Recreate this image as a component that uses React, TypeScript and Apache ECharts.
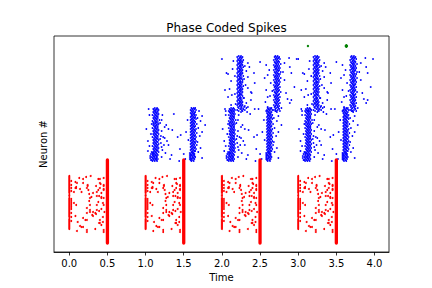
import { useEffect, useRef } from "react";
import * as echarts from "echarts";

// x-axis tick labels (time)
const xTicks = [0, 0.5, 1, 1.5, 2, 2.5, 3, 3.5, 4];

// which cycles each population is active in (cycle start times)
const redCycles = [0, 1, 2, 3];
const middleCycles = [1, 2, 3];
const upperCycles = [2, 3];

// red population: synchronous volley at phase 0.5 across neurons 0..83
const redSyncPhase = 0.5;
const redSyncNeurons = [0, 83];

// red population: onset column (phase, neuron)
const redOnset: [number, number][] = [
  [0, 67], [0, 66], [0, 65], [0, 64], [0, 63], [0, 62], [0, 61], [0, 60], [0, 59], [0, 58],
  [0, 57], [0, 56], [0, 55], [0, 54], [0, 53], [0, 52], [0, 51], [0, 50], [0, 48], [0, 47],
  [0, 45], [0, 44], [0, 43], [0, 42], [0, 41], [0, 40], [0, 39], [0, 38], [0, 37], [0, 36],
  [0, 35], [0, 34], [0, 33], [0, 32], [0, 31], [0, 30], [0, 29], [0, 28], [0, 27], [0, 26],
  [0, 24], [0, 23], [0, 22], [0, 21], [0, 20], [0, 19], [0, 18], [0, 17], [0, 16], [0, 15], [0, 14],
  [0.025, 62], [0.025, 58], [0.025, 55], [0.025, 52], [0.025, 44], [0.025, 42], [0.025, 40],
  [0.025, 38], [0.025, 36], [0.025, 34], [0.025, 30], [0.025, 26], [0.025, 22],
];

// red population: scattered spikes within a cycle (phase, neuron)
const redScatter: [number, number][] = [
  [0.13, 65], [0.18, 64], [0.28, 67], [0.38, 64], [0.45, 65], [0.08, 61], [0.24, 57], [0.09, 56],
  [0.09, 55], [0.35, 57], [0.41, 59], [0.45, 57], [0.14, 54], [0.06, 51], [0.16, 51], [0.25, 53],
  [0.38, 53], [0.45, 53], [0.26, 49], [0.29, 46], [0.36, 47], [0.42, 46], [0.27, 45], [0.06, 40],
  [0.09, 38], [0.26, 42], [0.27, 38], [0.38, 41], [0.44, 40], [0.36, 38], [0.42, 45], [0.23, 35],
  [0.27, 33], [0.31, 31], [0.35, 29], [0.30, 28], [0.42, 34], [0.39, 32], [0.46, 31], [0.08, 27],
  [0.31, 27], [0.18, 25], [0.23, 23], [0.44, 21], [0.14, 17], [0.18, 16], [0.40, 20], [0.42, 18],
  [0.10, 12], [0.23, 11], [0.45, 11], [0.22, 66], [0.40, 64], [0.10, 60], [0.18, 60], [0.24, 58],
  [0.40, 60], [0.45, 58], [0.08, 55], [0.23, 55], [0.40, 55], [0.45, 54], [0.31, 50], [0.36, 51],
  [0.42, 50], [0.39, 47], [0.45, 45], [0.45, 38], [0.27, 31], [0.36, 33], [0.23, 30], [0.34, 30],
  [0.21, 23], [0.40, 23], [0.44, 26], [0.11, 21], [0.39, 20], [0.16, 16], [0.23, 13], [0.34, 14],
  [0.45, 13],
];

// middle blue population: neuron -> spike phases within a cycle
const middleTrains: [number, number[]][] = [
  [135, [0.12, 0.15, 0.60, 0.63, 0.65]],
  [134, [0.04, 0.10, 0.14, 0.16, 0.61, 0.64]],
  [133, [0.11, 0.13, 0.17, 0.59, 0.62, 0.66]],
  [132, [0.12, 0.15, 0.60, 0.63, 0.70]],
  [131, [0.10, 0.13, 0.16, 0.61, 0.65]],
  [130, [0.11, 0.14, 0.59, 0.62, 0.64]],
  [129, [0.12, 0.15, 0.17, 0.37, 0.60, 0.63]],
  [128, [0.05, 0.09, 0.13, 0.22, 0.61, 0.64, 0.66]],
  [127, [0.11, 0.14, 0.16, 0.60, 0.62, 0.74]],
  [126, [0.12, 0.15, 0.59, 0.63, 0.65]],
  [125, [0.10, 0.13, 0.16, 0.61, 0.64, 0.68]],
  [124, [0.11, 0.14, 0.60, 0.62, 0.66]],
  [123, [0.12, 0.15, 0.18, 0.21, 0.55, 0.59, 0.63]],
  [122, [0.09, 0.13, 0.61, 0.64, 0.72]],
  [121, [0.11, 0.14, 0.16, 0.60, 0.62, 0.65]],
  [120, [0.10, 0.13, 0.19, 0.59, 0.63]],
  [119, [0.08, 0.12, 0.15, 0.17, 0.61, 0.64, 0.67]],
  [118, [0.10, 0.14, 0.27, 0.60, 0.62, 0.78]],
  [117, [0.11, 0.13, 0.16, 0.59, 0.63, 0.65]],
  [116, [0.12, 0.15, 0.25, 0.61, 0.64]],
  [115, [0.09, 0.13, 0.16, 0.60, 0.62, 0.69]],
  [114, [0.01, 0.11, 0.14, 0.30, 0.59, 0.63, 0.66]],
  [113, [0.12, 0.15, 0.17, 0.35, 0.61, 0.64]],
  [112, [0.10, 0.13, 0.21, 0.60, 0.62, 0.65]],
  [111, [0.11, 0.14, 0.16, 0.53, 0.59, 0.63, 0.74]],
  [110, [0.12, 0.15, 0.61, 0.64, 0.67]],
  [109, [0.07, 0.10, 0.13, 0.17, 0.60, 0.62]],
  [108, [0.11, 0.14, 0.46, 0.59, 0.63, 0.65]],
  [107, [0.12, 0.15, 0.16, 0.20, 0.61, 0.64, 0.71]],
  [106, [0.09, 0.13, 0.23, 0.42, 0.60, 0.62, 0.66]],
  [105, [0.11, 0.14, 0.16, 0.25, 0.59, 0.63]],
  [104, [0.12, 0.15, 0.19, 0.61, 0.64, 0.65]],
  [103, [0.10, 0.13, 0.17, 0.56, 0.60, 0.62]],
  [102, [0.03, 0.11, 0.14, 0.28, 0.59, 0.63, 0.66]],
  [101, [0.12, 0.15, 0.16, 0.61, 0.64, 0.68]],
  [100, [0.10, 0.13, 0.20, 0.60, 0.62, 0.65]],
  [99, [0.11, 0.14, 0.17, 0.59, 0.63]],
  [98, [0.12, 0.15, 0.24, 0.30, 0.61, 0.64, 0.67]],
  [97, [0.05, 0.09, 0.13, 0.16, 0.60, 0.62]],
  [96, [0.11, 0.14, 0.21, 0.59, 0.63, 0.65]],
  [95, [0.12, 0.15, 0.17, 0.61, 0.64, 0.72]],
  [94, [0.10, 0.13, 0.45, 0.60, 0.62, 0.66]],
  [93, [0.11, 0.14, 0.16, 0.22, 0.59, 0.63]],
  [92, [0.03, 0.12, 0.15, 0.61, 0.64, 0.65]],
  [91, [0.08, 0.10, 0.13, 0.17, 0.60, 0.62, 0.69]],
  [90, [0.09, 0.11, 0.14, 0.26, 0.58, 0.61, 0.63]],
  [89, [0.07, 0.10, 0.12, 0.15, 0.50, 0.59, 0.62, 0.64]],
  [88, [0.09, 0.13, 0.16, 0.34, 0.58, 0.60, 0.63]],
  [87, [0.06, 0.10, 0.12, 0.14, 0.59, 0.61, 0.64]],
  [86, [0.08, 0.11, 0.15, 0.21, 0.58, 0.62, 0.65]],
  [85, [0.06, 0.09, 0.12, 0.14, 0.59, 0.61, 0.63, 0.74]],
  [84, [0.10, 0.13, 0.16, 0.32, 0.52, 0.58, 0.60, 0.64]],
  [83, [0.07, 0.08, 0.11, 0.14, 0.59, 0.62]],
  [82, [0.09, 0.12, 0.15, 0.44, 0.60, 0.63]],
];

// upper blue population: neuron -> spike phases within a cycle
const upperTrains: [number, number[]][] = [
  [187, [0.22, 0.25, 0.70, 0.73]],
  [186, [0.20, 0.24, 0.27, 0.69, 0.72, 0.75]],
  [185, [0.23, 0.26, 0.71, 0.74, 0.88]],
  [184, [0.00, 0.21, 0.25, 0.70, 0.73, 0.76, 0.98]],
  [183, [0.22, 0.24, 0.28, 0.68, 0.72]],
  [182, [0.15, 0.20, 0.23, 0.26, 0.71, 0.74]],
  [181, [0.24, 0.27, 0.50, 0.69, 0.73, 0.75]],
  [180, [0.21, 0.23, 0.25, 0.34, 0.70, 0.72, 0.82]],
  [179, [0.22, 0.26, 0.71, 0.74, 0.77]],
  [178, [0.20, 0.24, 0.27, 0.58, 0.68, 0.72]],
  [177, [0.23, 0.25, 0.30, 0.70, 0.73, 0.75]],
  [176, [0.21, 0.24, 0.28, 0.36, 0.69, 0.72, 0.89]],
  [175, [0.22, 0.26, 0.71, 0.74, 0.76]],
  [174, [0.14, 0.20, 0.23, 0.25, 0.70, 0.72]],
  [173, [0.24, 0.27, 0.62, 0.68, 0.73, 0.75]],
  [172, [0.21, 0.23, 0.26, 0.32, 0.71, 0.74]],
  [171, [0.22, 0.25, 0.69, 0.72, 0.77, 0.80]],
  [170, [0.06, 0.20, 0.24, 0.27, 0.42, 0.70, 0.73, 0.91]],
  [169, [0.08, 0.23, 0.26, 0.71, 0.74, 0.76]],
  [168, [0.21, 0.24, 0.60, 0.68, 0.72]],
  [167, [0.17, 0.22, 0.25, 0.28, 0.70, 0.73, 0.75]],
  [166, [0.20, 0.23, 0.34, 0.69, 0.72]],
  [165, [0.24, 0.26, 0.56, 0.71, 0.74, 0.77]],
  [164, [0.21, 0.23, 0.25, 0.29, 0.70, 0.73]],
  [163, [0.22, 0.27, 0.68, 0.72, 0.75, 0.82]],
  [162, [0.12, 0.20, 0.24, 0.71, 0.74]],
  [161, [0.23, 0.25, 0.27, 0.69, 0.72, 0.76]],
  [160, [0.21, 0.24, 0.43, 0.64, 0.70, 0.73]],
  [159, [0.22, 0.26, 0.71, 0.75]],
  [158, [0.20, 0.23, 0.25, 0.31, 0.68, 0.72, 0.74]],
  [157, [0.24, 0.28, 0.70, 0.73]],
  [156, [0.21, 0.23, 0.26, 0.69, 0.72, 0.76, 0.95]],
  [155, [0.22, 0.25, 0.34, 0.71, 0.74]],
  [154, [0.10, 0.20, 0.24, 0.27, 0.70, 0.73]],
  [153, [0.04, 0.23, 0.26, 0.58, 0.68, 0.72, 0.75]],
  [152, [0.21, 0.24, 0.66, 0.71, 0.74]],
  [151, [0.22, 0.25, 0.27, 0.38, 0.69, 0.73, 0.77]],
  [150, [0.20, 0.23, 0.39, 0.70, 0.72, 0.84]],
  [149, [0.17, 0.24, 0.26, 0.71, 0.75]],
  [148, [0.13, 0.21, 0.23, 0.25, 0.68, 0.72, 0.74]],
  [147, [0.22, 0.27, 0.63, 0.70, 0.73]],
  [146, [0.08, 0.20, 0.24, 0.60, 0.69, 0.72, 0.76]],
  [145, [0.23, 0.25, 0.28, 0.29, 0.71, 0.74]],
  [144, [0.21, 0.24, 0.70, 0.73, 0.86]],
  [143, [0.22, 0.26, 0.38, 0.68, 0.72, 0.75, 0.91]],
  [142, [0.20, 0.23, 0.25, 0.71, 0.74]],
  [141, [0.24, 0.27, 0.57, 0.69, 0.73]],
  [140, [0.21, 0.23, 0.26, 0.32, 0.70, 0.72, 0.76, 0.89]],
  [139, [0.18, 0.22, 0.25, 0.71, 0.74]],
  [138, [0.12, 0.20, 0.24, 0.27, 0.68, 0.72]],
  [137, [0.23, 0.26, 0.30, 0.70, 0.73, 0.75]],
  [136, [0.21, 0.25, 0.29, 0.34, 0.60, 0.69, 0.73]],
  [135, [0.22, 0.26, 0.32, 0.71, 0.74, 0.78]],
  [134, [0.24, 0.28, 0.43, 0.48, 0.70, 0.75]],
  [133, [0.20, 0.26, 0.30, 0.68, 0.73]],
  [132, [0.05, 0.09, 0.13, 0.22, 0.27, 0.58, 0.71, 0.76]],
  [131, [0.25, 0.33, 0.72]],
];

// green output spikes (time, neuron)
const greenSpikes: [number, number][] = [
  [3.128, 197], [3.623, 197], [3.639, 197], [3.631, 196.2], [3.631, 197.8], [3.631, 197],
];

const flattenPairs = (pairs: [number, number][], cycles: number[]) =>
  cycles.flatMap((c) => pairs.map(([p, n]) => [c + p, n]));
const flattenTrains = (rows: [number, number[]][], cycles: number[]) =>
  cycles.flatMap((c) => rows.flatMap(([n, phases]) => phases.map((p) => [c + p, n])));

export default function App() {
  const ref = useRef<HTMLDivElement>(null);
  useEffect(() => {
    if (!ref.current) return;
    const chart = echarts.init(ref.current, null, { renderer: "svg" });
    const font = "DejaVu Sans";
    const dot = (name: string, data: number[][], color: string, size: number) => ({
      name,
      type: "scatter",
      data,
      symbol: "circle",
      symbolSize: size,
      itemStyle: { color, opacity: 1 },
      silent: true,
      large: false,
    });
    const syncLines = redCycles.map((c) => ({
      type: "line",
      data: [
        [c + redSyncPhase, redSyncNeurons[0]],
        [c + redSyncPhase, redSyncNeurons[1]],
      ],
      symbol: "none",
      silent: true,
      lineStyle: { color: "#ff0000", width: 3.3, cap: "round" },
    }));
    chart.setOption({
      animation: false,
      title: {
        text: "Phase Coded Spikes",
        left: 221.5,
        textAlign: "center",
        top: 17,
        textStyle: { fontFamily: font, fontSize: 12, fontWeight: "normal", color: "#000" },
      },
      grid: {
        left: 54,
        right: 43,
        top: 36,
        bottom: 36,
        show: true,
        borderColor: "#000",
        borderWidth: 0.8,
        backgroundColor: "transparent",
      },
      xAxis: {
        type: "value",
        min: -0.2,
        max: 4.19,
        name: "Time",
        nameLocation: "middle",
        nameGap: 19,
        nameTextStyle: { fontFamily: font, fontSize: 10, color: "#000" },
        axisLine: { show: true, onZero: false, lineStyle: { color: "#000", width: 0.8 } },
        axisTick: { show: true, length: 3.5, customValues: xTicks, lineStyle: { color: "#000", width: 0.8 } },
        axisLabel: {
          customValues: xTicks,
          margin: 6,
          fontFamily: font,
          fontSize: 10,
          color: "#000",
          formatter: (v: number) => v.toFixed(1),
        },
        splitLine: { show: false },
      },
      yAxis: {
        type: "value",
        min: -9,
        max: 207,
        name: "Neuron #",
        nameLocation: "middle",
        nameGap: 6,
        nameRotate: 90,
        nameTextStyle: { fontFamily: font, fontSize: 10, color: "#000" },
        axisLine: { show: false },
        axisTick: { show: false },
        axisLabel: { show: false },
        splitLine: { show: false },
      },
      series: [
        dot("red onset", flattenPairs(redOnset, redCycles), "#ff0000", 2.0),
        dot("red scatter", flattenPairs(redScatter, redCycles), "#ff0000", 2.0),
        ...syncLines,
        dot("middle", flattenTrains(middleTrains, middleCycles), "#0000ff", 1.8),
        dot("upper", flattenTrains(upperTrains, upperCycles), "#0000ff", 1.8),
        dot("output", greenSpikes, "#008000", 2.4),
      ],
    });
    return () => chart.dispose();
  }, []);
  return <div ref={ref} style={{ width: 432, height: 288, position: "absolute", left: 0, top: 0 }} />;
}
